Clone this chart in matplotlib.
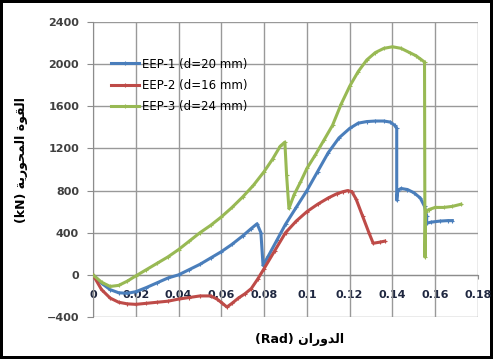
import numpy as np
import matplotlib
matplotlib.use("Agg")
import matplotlib.pyplot as plt

# data
x1 = [0, 0.004, 0.008, 0.012, 0.016, 0.02, 0.025, 0.03, 0.035, 0.04, 0.045, 0.05, 0.055, 0.06,
      0.065, 0.07, 0.074, 0.0767, 0.0785, 0.0795, 0.082, 0.086, 0.09, 0.095, 0.1, 0.105, 0.11,
      0.115, 0.12, 0.124, 0.128, 0.132, 0.136, 0.139, 0.141, 0.142, 0.142, 0.1425, 0.144, 0.147,
      0.15, 0.153, 0.155, 0.156, 0.156, 0.158, 0.162, 0.166, 0.168]
y1 = [0, -80, -140, -170, -175, -160, -120, -75, -30, 0, 50, 100, 160, 220,
      290, 370, 440, 485, 400, 90, 180, 330, 480, 640, 800, 980, 1160,
      1300, 1390, 1440, 1455, 1460, 1460, 1450, 1420, 1390, 710, 800, 820, 810,
      780, 730, 650, 560, 490, 500, 510, 515, 515]

x2 = [0, 0.004, 0.008, 0.012, 0.016, 0.02, 0.025, 0.03, 0.035, 0.04, 0.045, 0.05, 0.055, 0.058,
      0.0605, 0.0626, 0.065, 0.068, 0.071, 0.074, 0.077, 0.08, 0.085, 0.09, 0.095, 0.1, 0.105,
      0.11, 0.114, 0.117, 0.119, 0.121, 0.123, 0.126, 0.129, 0.131, 0.134, 0.1364]
y2 = [0, -140, -220, -260, -275, -280, -270, -260, -250, -230, -215, -200, -200, -230,
      -270, -305, -270, -220, -180, -130, -40, 60, 230, 400, 510, 600, 670,
      730, 770, 790, 800, 790, 720, 560, 400, 300, 310, 320]

x3 = [0, 0.004, 0.008, 0.012, 0.016, 0.02, 0.025, 0.03, 0.035, 0.04, 0.045, 0.05, 0.055, 0.06,
      0.065, 0.07, 0.075, 0.08, 0.084, 0.0875, 0.0897, 0.0905, 0.0916, 0.094, 0.097, 0.1, 0.104,
      0.108, 0.112, 0.116, 0.12, 0.124, 0.128, 0.132, 0.136, 0.14, 0.144, 0.148, 0.151, 0.153,
      0.155, 0.1552, 0.1555, 0.157, 0.16, 0.164, 0.168, 0.172]
y3 = [0, -70, -110, -100, -60, -10, 50, 110, 170, 240, 320, 400, 470, 550,
      640, 740, 850, 980, 1100, 1220, 1260, 950, 630, 760, 880, 1010, 1140,
      1280, 1420, 1620, 1790, 1930, 2040, 2110, 2150, 2165, 2150, 2110, 2080, 2050,
      2020, 170, 600, 620, 640, 640, 650, 670]

labels = ["EEP-1 (d=20 mm)", "EEP-2 (d=16 mm)", "EEP-3 (d=24 mm)"]
colors = ["#4A7EBB", "#BE4B48", "#98B954"]

xticks = [0, 0.02, 0.04, 0.06, 0.08, 0.1, 0.12, 0.14, 0.16, 0.18]
xticklabels = ["0", "0.02", "0.04", "0.06", "0.08", "0.1", "0.12", "0.14", "0.16", "0.18"]
yticks = [-400, 0, 400, 800, 1200, 1600, 2000, 2400]

# arabic text in visual order (presentation forms)
xlab = "(Rad) \ufee5\ufe8d\ufead\ufeed\ufeaa\ufedf\ufe8d"
ylab = "(kN) \ufe94\ufef3\ufead\ufeee\ufea4\ufee4\ufedf\ufe8d \ufe93\ufeee\ufed8\ufedf\ufe8d"

plt.rcParams['font.family'] = ['DejaVu Sans']

fig = plt.figure(figsize=(4.93, 3.59), dpi=100)
ax = fig.add_axes([93/493, 1-317/359, (478-93)/493, (317-22)/359])

for xs, ys, lab, c in zip([x1, x2, x3], [y1, y2, y3], labels, colors):
    ax.plot(xs, ys, color=c, lw=2.2, marker='+', ms=3, mew=0.8, label=lab, zorder=3)

ax.set_xlim(0, 0.18)
ax.set_ylim(-400, 2400)

for s in ["top", "right"]:
    ax.spines[s].set_visible(False)
ax.spines["left"].set_color("#8c8c8c")
ax.spines["bottom"].set_position(("data", 0))
ax.spines["bottom"].set_color("#8c8c8c")

ax.set_xticks(xticks)
ax.set_xticklabels(xticklabels)
ax.set_yticks(yticks)

# grid lines through the tick positions, as ordinary lines
for xv in xticks:
    ax.plot([xv, xv], [yticks[0], yticks[-1]], color="#999999", lw=1.0, zorder=2)
for yv in yticks:
    ax.plot([xticks[0], xticks[-1]], [yv, yv], color="#999999", lw=1.0, zorder=2)

ax.tick_params(axis="y", length=4, color="#8c8c8c", labelsize=8, pad=6)
ax.tick_params(axis="x", length=3, color="#8c8c8c", labelsize=8, pad=8)
for t in ax.get_yticklabels():
    t.set_fontweight("bold")
    t.set_color("#404040")
for t in ax.get_xticklabels():
    t.set_fontweight("bold")
    t.set_color("#1f2740")

handles, _ = ax.get_legend_handles_labels()
ax.legend(handles[:3], labels, loc="upper left", bbox_to_anchor=(100/493, 1-47/359),
          bbox_transform=fig.transFigure, frameon=False, fontsize=8.5,
          handlelength=2.4, handletextpad=0.3, labelspacing=0.7)

fig.text(300/493, 1-340/359, xlab, ha="center", va="center", fontsize=9, fontweight="bold")
fig.text(22/493, 1-160/359, ylab, ha="center", va="center", rotation=90, fontsize=9, fontweight="bold")

# black frame round the whole picture
fig.patch.set_edgecolor("black")
fig.patch.set_linewidth(3)

fig.savefig("out.png", dpi=100, edgecolor="black")
